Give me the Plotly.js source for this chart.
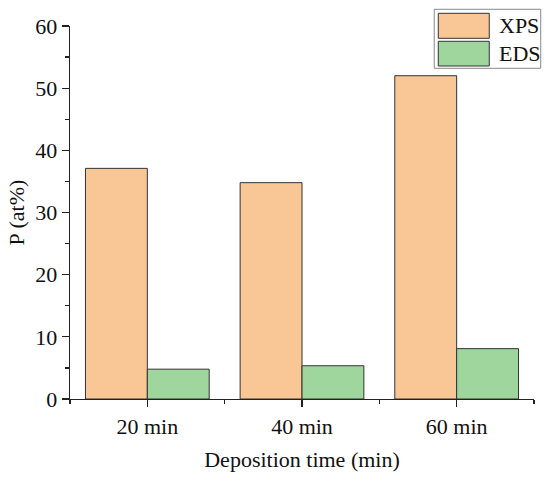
<!DOCTYPE html>
<html>
<head>
<meta charset="utf-8">
<script src="https://cdn.plot.ly/plotly-3.0.1.min.js"></script>
<style>html,body{margin:0;padding:0;background:#fff;}#chart{width:550px;height:479px;}</style>
</head>
<body>
<div id="chart"></div>
<script>
const categories = ["20 min", "40 min", "60 min"];
const xpsValues = [37.1, 34.8, 52.0];
const edsValues = [4.8, 5.35, 8.1];
const seriesNames = ["XPS", "EDS"];
const yTickVals = [0, 10, 20, 30, 40, 50, 60];

const FONT = "'Liberation Serif', 'Times New Roman', serif";
const xIdx = categories.map((_, i) => i);
const colors = ["#F9C696", "#9ED69E"];

const traces = [
  {type: "bar", name: seriesNames[0], x: xIdx, y: xpsValues,
   marker: {color: colors[0], line: {color: "#333", width: 1}}},
  {type: "bar", name: seriesNames[1], x: xIdx, y: edsValues,
   marker: {color: colors[1], line: {color: "#333", width: 1}}}
];

const layout = {
  width: 550, height: 479,
  margin: {l: 70, r: 16, t: 26, b: 80},
  paper_bgcolor: "#fff", plot_bgcolor: "#fff",
  font: {family: FONT, size: 22, color: "#111"},
  barmode: "group", bargap: 0.2, bargroupgap: 0,
  showlegend: false,
  xaxis: {
    range: [-0.5, 2.5], tickmode: "array", tickvals: xIdx, ticktext: categories,
    showgrid: false, zeroline: false, showline: true, linecolor: "#222", linewidth: 1.3,
    ticks: "outside", ticklen: 7, tickwidth: 1.3, tickcolor: "#222",
    minor: {tickmode: "array", tickvals: [-0.5, 0.5, 1.5, 2.5], ticks: "outside", ticklen: 4, tickwidth: 1.3, tickcolor: "#222", showgrid: false},
    tickfont: {family: FONT, size: 22, color: "#111"},
    title: {text: "Deposition time (min)", font: {family: FONT, size: 22, color: "#111"}, standoff: 14}
  },
  yaxis: {
    range: [0, 60], tickmode: "array", tickvals: yTickVals,
    showgrid: false, zeroline: false, showline: true, linecolor: "#222", linewidth: 1.3,
    ticks: "outside", ticklen: 7, tickwidth: 1.3, tickcolor: "#222",
    minor: {tickmode: "linear", tick0: 5, dtick: 10, ticks: "outside", ticklen: 4, tickwidth: 1.3, tickcolor: "#222", showgrid: false},
    tickfont: {family: FONT, size: 22, color: "#111"},
    title: {text: "P (at%)", font: {family: FONT, size: 22, color: "#111"}, standoff: 4}
  },
  shapes: [
    {type: "rect", xref: "paper", yref: "paper", x0: 0.785, x1: 1.0145, y0: 0.8866, y1: 1.0448,
     line: {color: "#888", width: 1}, fillcolor: "rgba(255,255,255,1)"},
    {type: "rect", xref: "paper", yref: "paper", x0: 0.7937, x1: 0.9036, y0: 0.9670, y1: 1.0340,
     line: {color: "#333", width: 1}, fillcolor: colors[0]},
    {type: "rect", xref: "paper", yref: "paper", x0: 0.7937, x1: 0.9036, y0: 0.8928, y1: 0.9590,
     line: {color: "#333", width: 1}, fillcolor: colors[1]}
  ],
  annotations: [
    {xref: "paper", yref: "paper", x: 0.9209, y: 1.0005, xanchor: "left", yanchor: "middle",
     text: seriesNames[0], showarrow: false, font: {family: FONT, size: 22, color: "#111"}},
    {xref: "paper", yref: "paper", x: 0.9209, y: 0.9257, xanchor: "left", yanchor: "middle",
     text: seriesNames[1], showarrow: false, font: {family: FONT, size: 22, color: "#111"}}
  ]
};

Plotly.newPlot("chart", traces, layout, {displayModeBar: false, staticPlot: true});
</script>
</body>
</html>
